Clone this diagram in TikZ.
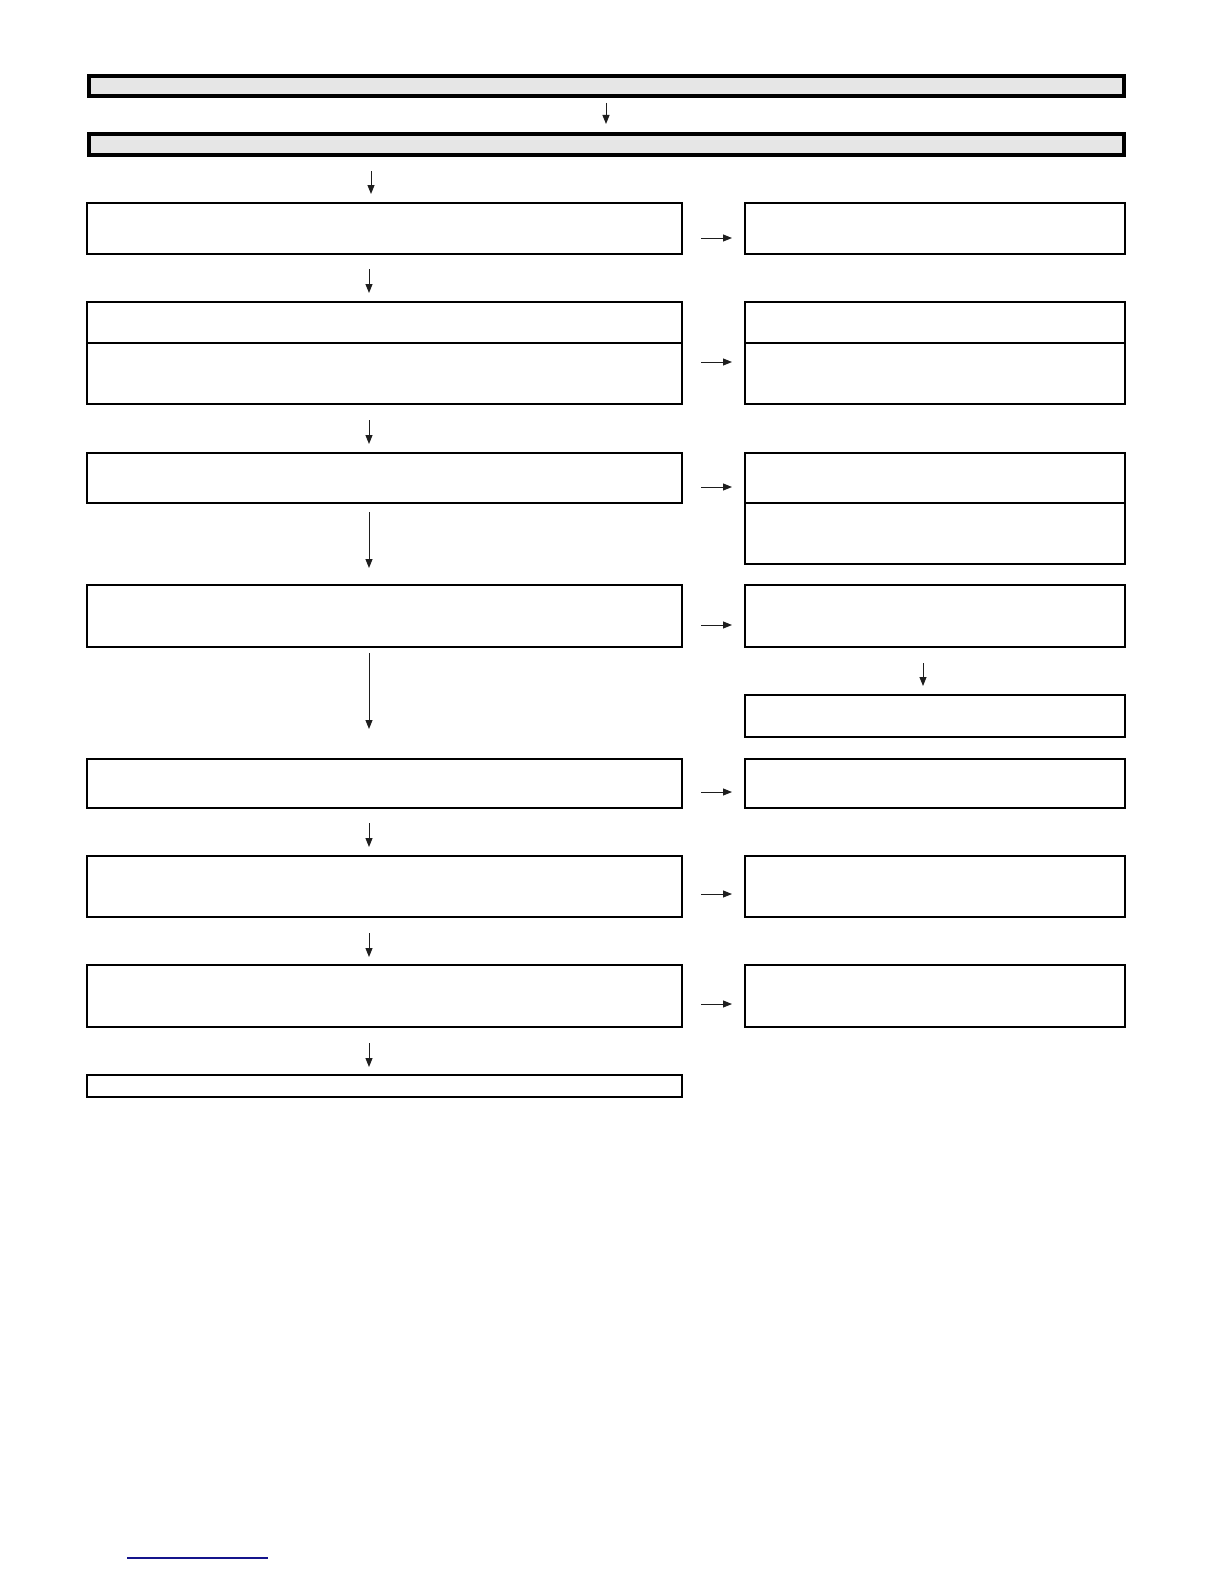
\documentclass[tikz,border=0pt]{standalone}
\usetikzlibrary{arrows.meta}
\definecolor{bargray}{RGB}{230,230,230}
\definecolor{arrgray}{RGB}{30,30,30}
\definecolor{linkblue}{RGB}{20,20,140}
\begin{document}
\begin{tikzpicture}[x=1pt,y=-1pt,
  bar/.style={draw=black,line width=4pt,fill=bargray},
  box/.style={draw=black,line width=1.1pt},
  arr/.style={draw=arrgray,line width=1pt,-{Triangle[length=9pt,width=7pt]}}]
\useasboundingbox[fill=white] (0,0) rectangle (1224,1584);
% header bars
\draw[bar] (89,76) rectangle (1124,96);
\draw[bar] (89,134) rectangle (1124,155);
% left boxes
\draw[box] (87,203) rectangle (682,254);
\draw[box] (87,302) rectangle (682,404); \draw[box] (87,343) -- (682,343);
\draw[box] (87,453) rectangle (682,503);
\draw[box] (87,585) rectangle (682,647);
\draw[box] (87,759) rectangle (682,808);
\draw[box] (87,856) rectangle (682,917);
\draw[box] (87,965) rectangle (682,1027);
\draw[box] (87,1075) rectangle (682,1097);
% right boxes
\draw[box] (745,203) rectangle (1125,254);
\draw[box] (745,302) rectangle (1125,404); \draw[box] (745,343) -- (1125,343);
\draw[box] (745,453) rectangle (1125,564); \draw[box] (745,503) -- (1125,503);
\draw[box] (745,585) rectangle (1125,647);
\draw[box] (745,695) rectangle (1125,737);
\draw[box] (745,759) rectangle (1125,808);
\draw[box] (745,856) rectangle (1125,917);
\draw[box] (745,965) rectangle (1125,1027);
% vertical arrows
\coordinate (a0s) at (606,103); \coordinate (a0e) at (606,124);
\draw[arr] (a0s) -- (a0e);
\coordinate (a1s) at (371,171); \coordinate (a1e) at (371,194);
\draw[arr] (a1s) -- (a1e);
\coordinate (a2s) at (369,269); \coordinate (a2e) at (369,293);
\draw[arr] (a2s) -- (a2e);
\coordinate (a3s) at (369,420); \coordinate (a3e) at (369,444);
\draw[arr] (a3s) -- (a3e);
\coordinate (a4s) at (369,512); \coordinate (a4e) at (369,568);
\draw[arr] (a4s) -- (a4e);
\coordinate (a5s) at (369,653); \coordinate (a5e) at (369,729);
\draw[arr] (a5s) -- (a5e);
\coordinate (a6s) at (369,823); \coordinate (a6e) at (369,847);
\draw[arr] (a6s) -- (a6e);
\coordinate (a7s) at (369,933); \coordinate (a7e) at (369,957);
\draw[arr] (a7s) -- (a7e);
\coordinate (a8s) at (369,1043); \coordinate (a8e) at (369,1067);
\draw[arr] (a8s) -- (a8e);
\coordinate (r1s) at (923,663); \coordinate (r1e) at (923,686);
\draw[arr] (r1s) -- (r1e);
% horizontal arrows
\foreach \yy in {238,362,487,625,792,894,1004}{
  \draw[arr] (701,\yy) -- (732,\yy);
}
% blue underline
\draw[draw=linkblue,line width=1.3pt] (127,1558) -- (268,1558);
\end{tikzpicture}
\end{document}
